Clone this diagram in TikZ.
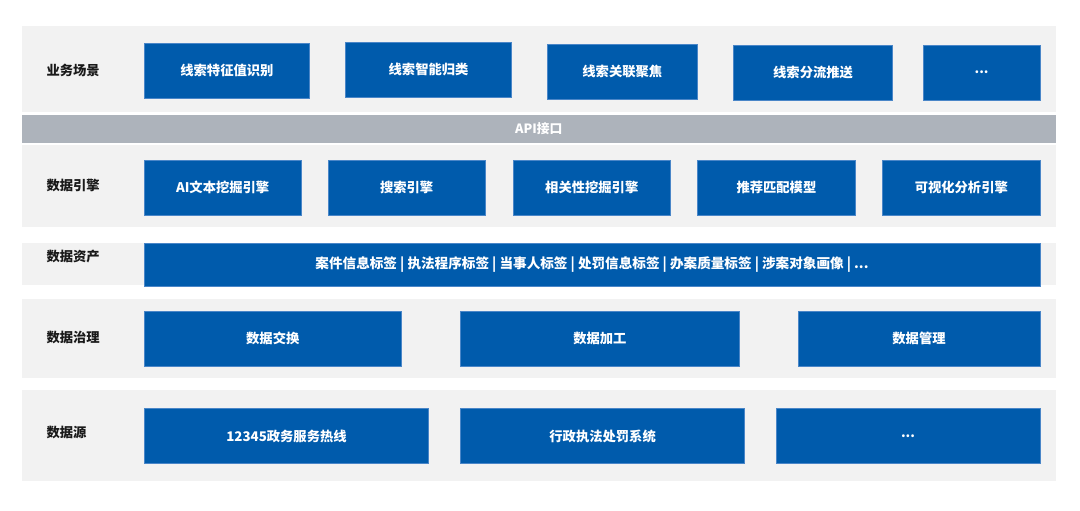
\documentclass[tikz,border=0pt]{standalone}
\usepackage{fontspec}
\setmainfont{Noto Sans CJK SC}
\usepackage{xcolor}
\usepackage{tikz}
\usetikzlibrary{positioning,calc}
\definecolor{boxblue}{HTML}{005BAC}
\definecolor{boxedge}{HTML}{4A86C8}
\definecolor{bandgray}{HTML}{F2F2F2}
\definecolor{apigray}{HTML}{ADB3BB}
\definecolor{labelink}{HTML}{1A1A1A}

\begin{document}
\begin{tikzpicture}[
    x=1pt, y=-1pt,
    every node/.style={inner sep=0pt, outer sep=0pt, font=\fontsize{13.3}{16}\selectfont\bfseries},
    band/.style={fill=bandgray, draw=none, minimum width=1033.5pt, anchor=center},
    layer/.style={text=labelink, anchor=west},
    box/.style={fill=boxblue, draw=boxedge, line width=0.6pt, text=white, minimum height=55pt, anchor=center}
]
    \useasboundingbox[fill=white] (0,0) rectangle (1080,511);

    \node[band, minimum height=86.5pt] (scene) at (538.75,69.25) {};
    \node[band, minimum height=27.5pt, fill=apigray, text=white,
          font=\fontsize{12.8}{15}\selectfont\bfseries] (api) at (538.75,128.75) {API接口};
    \node[band, minimum height=82pt] (engine) at (538.75,186) {};
    \node[band, minimum height=42pt] (asset) at (538.75,263.5) {};
    \node[band, minimum height=79.5pt] (govern) at (538.75,338.25) {};
    \node[band, minimum height=91pt] (source) at (538.75,435) {};

    \node[layer] (lscene) at (46.5,70) {业务场景};
    \node[layer] (lengine) at (46.5,185.7) {数据引擎};
    \node[layer] (lasset) at (46.5,256.7) {数据资产};
    \node[layer] (lgovern) at (46.5,337.3) {数据治理};
    \node[layer] (lsource) at (46.5,432.3) {数据源};

    \node[box, minimum width=164.6pt] (s1) at (226.9,70.7) {线索特征值识别};
    \node[box, minimum width=165.7pt] (s2) at (428.55,69.8) {线索智能归类};
    \node[box, minimum width=150.2pt] (s3) at (622.3,71.5) {线索关联聚焦};
    \node[box, minimum width=159.1pt] (s4) at (813.05,72.5) {线索分流推送};
    \node[box, minimum width=116.7pt] (s5) at (981.65,72.5) {...};

    \node[box, minimum width=157.3pt] (e1) at (222.65,187.7) {AI文本挖掘引擎};
    \node[box, minimum width=157.7pt] (e2) at (406.65,187.7) {搜索引擎};
    \node[box, minimum width=157.5pt] (e3) at (591.75,187.7) {相关性挖掘引擎};
    \node[box, minimum width=157.4pt] (e4) at (776.4,187.7) {推荐匹配模型};
    \node[box, minimum width=157.4pt] (e5) at (961.3,187.7) {可视化分析引擎};

    \node[box, minimum width=896pt, minimum height=42.7pt,
          font=\fontsize{13.6}{16}\selectfont\bfseries] (a1) at (592,264.7)
        {案件信息标签 | 执法程序标签 | 当事人标签 | 处罚信息标签 | 办案质量标签 | 涉案对象画像 | ...};

    \node[box, minimum width=257.5pt] (g1) at (272.75,338.7) {数据交换};
    \node[box, minimum width=278.3pt] (g2) at (599.85,338.7) {数据加工};
    \node[box, minimum width=242pt] (g3) at (919,338.7) {数据管理};

    \node[box, minimum width=283.8pt] (d1) at (286.5,436.2) {12345政务服务热线};
    \node[box, minimum width=283.8pt] (d2) at (602.6,436.2) {行政执法处罚系统};
    \node[box, minimum width=264pt] (d3) at (908,436.2) {...};
\end{tikzpicture}
\end{document}
